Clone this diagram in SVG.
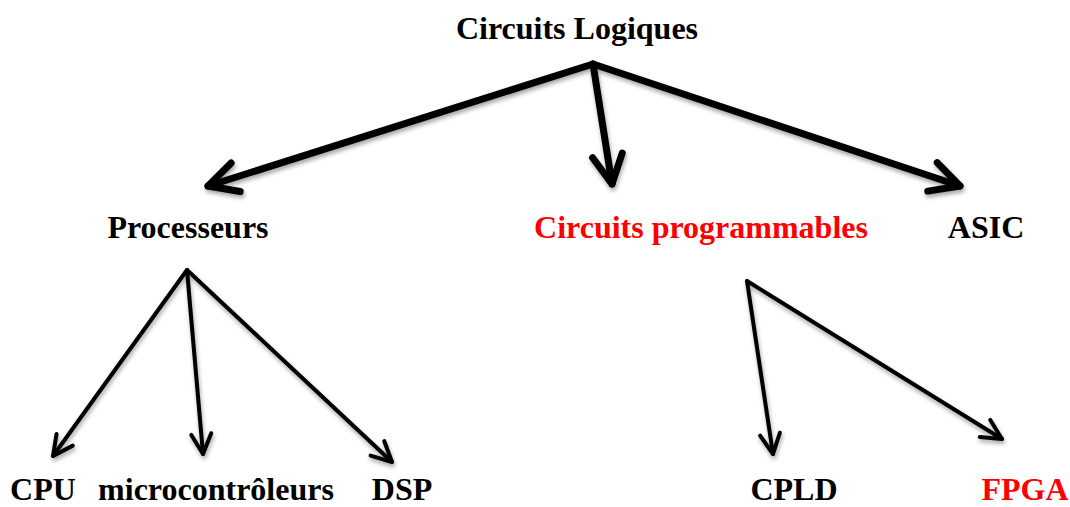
<svg xmlns="http://www.w3.org/2000/svg" width="1070" height="507" viewBox="0 0 1070 507">
<style>
.t{font-family:"Liberation Serif","Times New Roman",serif;font-weight:bold;font-size:32px;fill:#000}
.r{fill:#f00}
.big{fill:none;stroke:#000;stroke-width:7;stroke-linecap:round;stroke-linejoin:round}
.sm{fill:none;stroke:#000;stroke-width:4;stroke-linecap:round;stroke-linejoin:round}
</style>
<defs>
<filter id="sh" x="-10%" y="-10%" width="120%" height="130%">
<feDropShadow dx="1" dy="3" stdDeviation="2" flood-color="#000" flood-opacity="0.35"/>
</filter>
<marker id="ab" markerUnits="userSpaceOnUse" viewBox="-40 -25 50 50" markerWidth="50" markerHeight="50" refX="0" refY="0" orient="auto">
<path d="M-29,-15 L0,0 L-29,15" fill="none" stroke="#000" stroke-width="7" stroke-linecap="round" stroke-linejoin="round"/>
</marker>
<marker id="as" markerUnits="userSpaceOnUse" viewBox="-30 -18 36 36" markerWidth="36" markerHeight="36" refX="0" refY="0" orient="auto">
<path d="M-20,-10 L0,0 L-20,10" fill="none" stroke="#000" stroke-width="4" stroke-linecap="round" stroke-linejoin="round"/>
</marker>
</defs>
<g id="connectors" filter="url(#sh)">
<line class="big" x1="593" y1="64" x2="208" y2="186" marker-end="url(#ab)"/>
<line class="big" x1="593" y1="64" x2="612" y2="184" marker-end="url(#ab)"/>
<line class="big" x1="593" y1="64" x2="960" y2="186" marker-end="url(#ab)"/>
<line class="sm" x1="187" y1="270" x2="53" y2="456" marker-end="url(#as)"/>
<line class="sm" x1="187" y1="270" x2="203" y2="454" marker-end="url(#as)"/>
<line class="sm" x1="187" y1="270" x2="392" y2="462" marker-end="url(#as)"/>
<line class="sm" x1="747" y1="281" x2="773" y2="454" marker-end="url(#as)"/>
<line class="sm" x1="747" y1="281" x2="1002" y2="439" marker-end="url(#as)"/>
</g>
<g id="n-circuits-logiques"><text class="t" x="577" y="39" text-anchor="middle">Circuits Logiques</text></g>
<g id="n-processeurs"><text class="t" x="188" y="238" text-anchor="middle">Processeurs</text></g>
<g id="n-circuits-programmables"><text class="t r" x="701" y="238" text-anchor="middle">Circuits programmables</text></g>
<g id="n-asic"><text class="t" x="986" y="238" text-anchor="middle">ASIC</text></g>
<g id="n-cpu"><text class="t" x="43" y="500" text-anchor="middle">CPU</text></g>
<g id="n-micro"><text class="t" x="216" y="500" text-anchor="middle">microcontrôleurs</text></g>
<g id="n-dsp"><text class="t" x="402" y="500" text-anchor="middle">DSP</text></g>
<g id="n-cpld"><text class="t" x="794" y="500" text-anchor="middle">CPLD</text></g>
<g id="n-fpga"><text class="t r" x="1025" y="500" text-anchor="middle">FPGA</text></g>
</svg>
